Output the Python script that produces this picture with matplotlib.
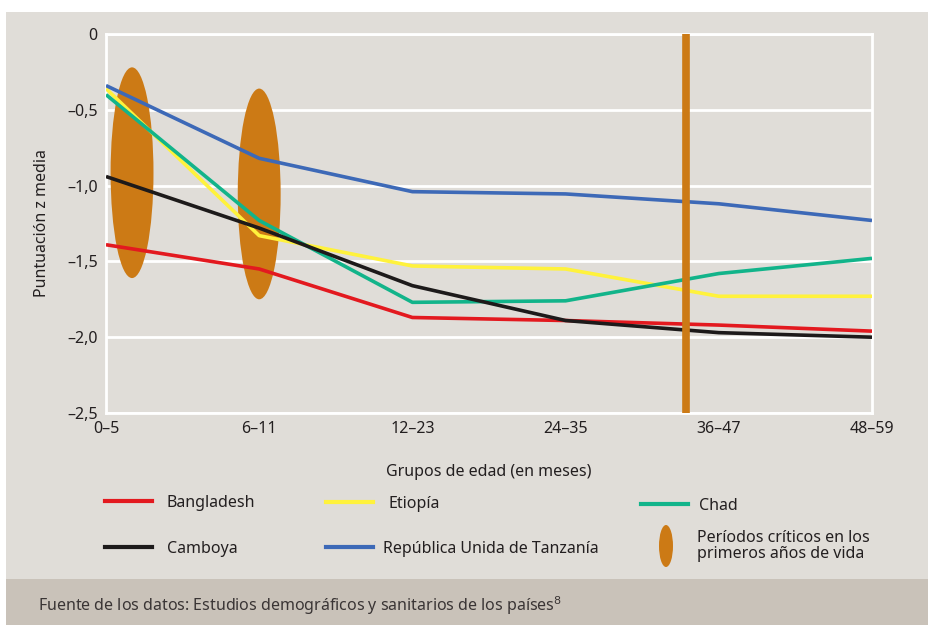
import matplotlib.pyplot as plt
from matplotlib.lines import Line2D
from matplotlib.patches import Ellipse, Rectangle

plt.rcParams["font.family"] = ["Noto Sans", "DejaVu Sans"]

# Grupos de edad y puntuación z media por país
GRUPOS = ["0–5", "6–11", "12–23", "24–35", "36–47", "48–59"]
BANGLADESH = [-1.39, -1.55, -1.87, -1.89, -1.92, -1.96]
ETIOPIA = [-0.36, -1.33, -1.53, -1.55, -1.73, -1.73]
CHAD = [-0.40, -1.23, -1.77, -1.76, -1.58, -1.48]
CAMBOYA = [-0.94, -1.28, -1.66, -1.89, -1.97, -2.00]
TANZANIA = [-0.34, -0.82, -1.04, -1.055, -1.12, -1.23]

Y_TICKS = [0, -0.5, -1.0, -1.5, -2.0, -2.5]
Y_LABELS = ["0", "–0,5", "–1,0", "–1,5", "–2,0", "–2,5"]

# períodos críticos: (x centro, y centro, ancho, alto)
PERIODOS = [(0.17, -0.915, 0.28, 1.39), (1.0, -1.055, 0.28, 1.39)]
LINEA_CRITICA_X = 3.786

BG = "#e0ddd8"
FOOTER = "#c9c2b9"
NARANJA = "#cc7a15"
TEXTO = "#231f20"

series = [
    ("Bangladesh", BANGLADESH, "#e3191f"),
    ("Etiopía", ETIOPIA, "#fff23c"),
    ("Chad", CHAD, "#12b48a"),
    ("Camboya", CAMBOYA, "#1d1a1a"),
    ("República Unida de Tanzanía", TANZANIA, "#3d69b7"),
]

fig = plt.figure(figsize=(9.29, 6.25), dpi=100)
fig.patch.set_facecolor("white")

W, H = 929, 625
# fondo del panel y franja de la fuente
fig.add_artist(Rectangle((6 / W, 0), 1 - 6 / W, 1 - 12 / H,
                         transform=fig.transFigure, facecolor=BG, edgecolor="none", zorder=0))
fig.add_artist(Rectangle((6 / W, 0), 1 - 6 / W, (625 - 579) / H,
                         transform=fig.transFigure, facecolor=FOOTER, edgecolor="none", zorder=0))

ax = fig.add_axes([106 / W, 1 - 413 / H, (872 - 106) / W, (413 - 34) / H])
ax.set_facecolor(BG)

x = list(range(len(GRUPOS)))

for y in Y_TICKS:
    ax.axhline(y, color="white", linewidth=2, zorder=1)

for cx, cy, w, h in PERIODOS:
    ax.add_patch(Ellipse((cx, cy), w, h, facecolor=NARANJA, edgecolor="none", zorder=2))

for nombre, valores, color in series:
    ax.plot(x, valores, color=color, linewidth=2.6, zorder=3, solid_capstyle="butt")

ax.axvline(LINEA_CRITICA_X, color=NARANJA, linewidth=5.5, zorder=4)

ax.set_xlim(0, 5)
ax.set_ylim(-2.5, 0)
ax.set_xticks(x)
ax.set_xticklabels(GRUPOS)
ax.set_yticks(Y_TICKS)
ax.set_yticklabels(Y_LABELS)
ax.tick_params(length=0, labelsize=11.5, colors=TEXTO, pad=6)
for s in ax.spines.values():
    s.set_color("white")
    s.set_linewidth(2)

ax.set_xlabel("Grupos de edad (en meses)", fontsize=11.5, color=TEXTO, labelpad=19)
ax.set_ylabel("Puntuación z media", fontsize=11.5, color=TEXTO, labelpad=12)

# leyenda manual en tres columnas
def entrada_linea(x0, y0, color, texto, tx, ty=None):
    fig.add_artist(Line2D([x0 / W, (x0 + 47) / W], [1 - y0 / H, 1 - y0 / H],
                          transform=fig.transFigure, color=color, linewidth=3))
    if ty is None:
        ty = y0 + 2
    fig.text(tx / W, 1 - ty / H, texto, fontsize=11.5,
             color=TEXTO, va="center", ha="left")

entrada_linea(105, 501, "#e3191f", "Bangladesh", 167)
entrada_linea(326, 502, "#fff23c", "Etiopía", 389, 504)
entrada_linea(641, 504, "#12b48a", "Chad", 699, 506)
entrada_linea(105, 547, "#1d1a1a", "Camboya", 167)
entrada_linea(326, 547, "#3d69b7", "República Unida de Tanzanía", 383)

fig.add_artist(Ellipse((666 / W, 1 - 546 / H), 14 / W, 42 / H, transform=fig.transFigure,
                       facecolor=NARANJA, edgecolor="none"))
fig.text(697 / W, 1 - 546 / H, "Períodos críticos en los\nprimeros años de vida",
         fontsize=11.5, color=TEXTO, va="center", ha="left", linespacing=0.95)

fig.text(38 / W, 1 - 606 / H,
         "Fuente de los datos: Estudios demográficos y sanitarios de los países$^{8}$",
         fontsize=11.5, color="#3a3535", va="center", ha="left")

fig.savefig("out.png", dpi=100, facecolor=fig.get_facecolor())
